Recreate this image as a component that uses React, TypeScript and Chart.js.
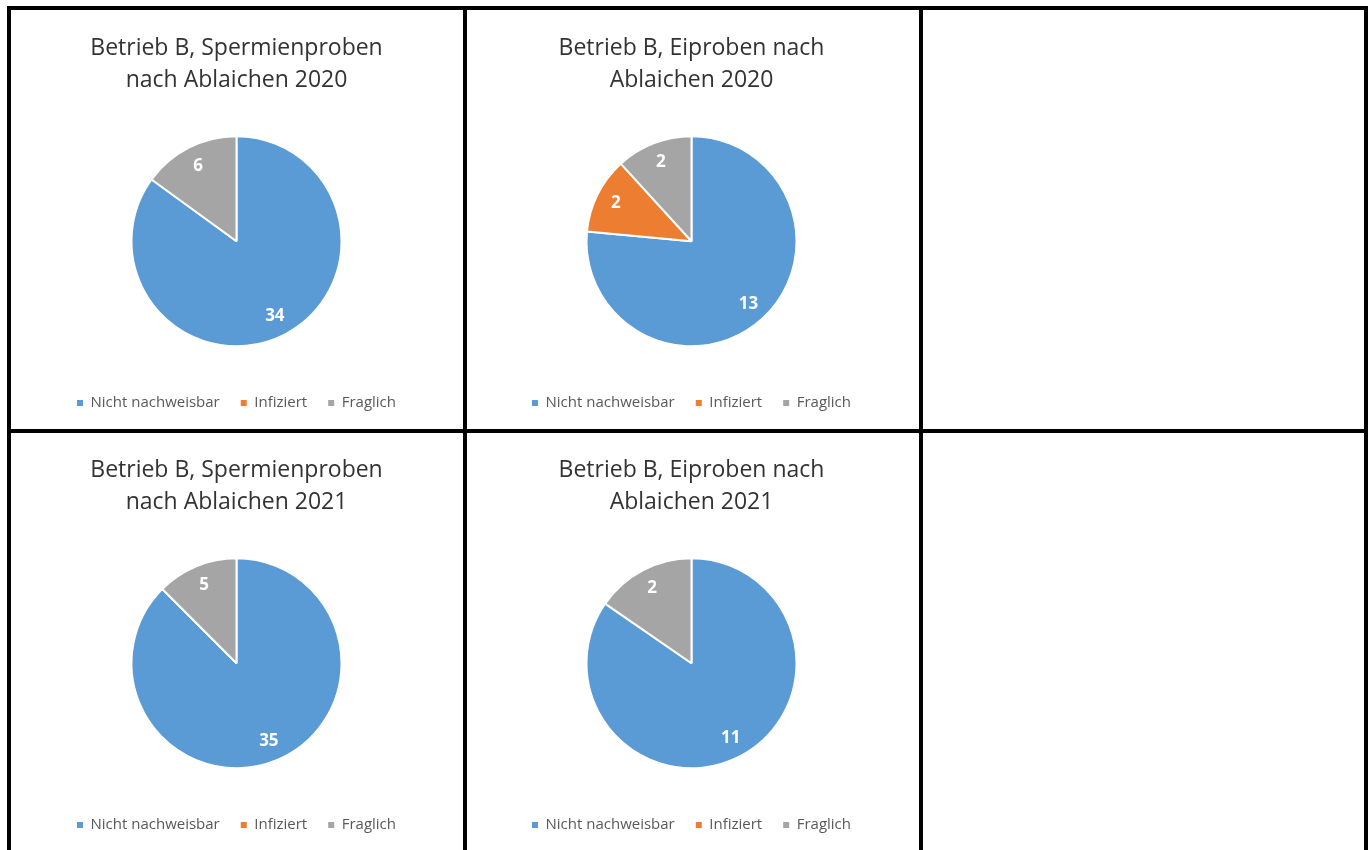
import React, { useEffect, useRef } from "react";
import { Chart, registerables } from "chart.js";

Chart.register(...registerables);

const categories = ["Nicht nachweisbar", "Infiziert", "Fraglich"];
const colors = ["#5B9BD5", "#ED7D31", "#A5A5A5"];

const title1 = ["Betrieb B, Spermienproben", "nach Ablaichen 2020"];
const title2 = ["Betrieb B, Eiproben nach", "Ablaichen 2020"];
const title3 = ["Betrieb B, Spermienproben", "nach Ablaichen 2021"];
const title4 = ["Betrieb B, Eiproben nach", "Ablaichen 2021"];

const sperm2020 = [34, 0, 6];
const egg2020 = [13, 2, 2];
const sperm2021 = [35, 0, 5];
const egg2021 = [11, 0, 2];

const FONT = "'Open Sans', Lato, sans-serif";

const labelPlugin = {
  id: "sliceLabels",
  afterDatasetsDraw(chart: any) {
    const ctx = chart.ctx;
    const meta = chart.getDatasetMeta(0);
    const data = chart.data.datasets[0].data;
    ctx.save();
    ctx.fillStyle = "#FFFFFF";
    ctx.font = `bold 17px ${FONT}`;
    ctx.textAlign = "center";
    ctx.textBaseline = "middle";
    meta.data.forEach((arc: any, i: number) => {
      const v = data[i];
      if (!v) return;
      const p = arc.getProps(["startAngle", "endAngle", "outerRadius", "x", "y"], true);
      const mid = (p.startAngle + p.endAngle) / 2;
      const d = p.outerRadius * 0.805;
      ctx.fillText(String(v), p.x + Math.cos(mid) * d, p.y + Math.sin(mid) * d);
    });
    ctx.restore();
  },
};

function PieCell({ title, values, left, top }: { title: string[]; values: number[]; left: number; top: number }) {
  const ref = useRef<HTMLCanvasElement | null>(null);
  useEffect(() => {
    if (!ref.current) return;
    const chart = new Chart(ref.current, {
      type: "pie",
      data: {
        labels: categories,
        datasets: [
          {
            data: values,
            backgroundColor: colors,
            borderColor: "#FFFFFF",
            borderWidth: 2,
            radius: 105,
          } as any,
        ],
      },
      options: {
        responsive: false,
        maintainAspectRatio: false,
        animation: false,
        layout: { padding: { top: 0, bottom: 7.5, left: 0, right: 0 } },
        plugins: {
          tooltip: { enabled: false },
          title: {
            display: true,
            text: title,
            color: "#333333",
            font: { family: FONT, size: 23, weight: "normal", lineHeight: 32 / 23 },
            padding: { top: 22, bottom: 12 },
          },
          legend: {
            position: "bottom",
            labels: {
              color: "#595959",
              font: { family: FONT, size: 15 },
              boxWidth: 6,
              boxHeight: 6,
              padding: 21,
              generateLabels(ch: any) {
                const base = (Chart as any).overrides.pie.plugins.legend.labels.generateLabels(ch);
                return base.map((l: any) => ({ ...l, lineWidth: 0, hidden: false }));
              },
            },
          },
        },
      },
      plugins: [labelPlugin],
    });
    return () => chart.destroy();
  }, []);
  return (
    <canvas
      ref={ref}
      width={451}
      height={418}
      style={{ position: "absolute", left, top, width: 451, height: 418 }}
    />
  );
}

const line = (l: number, t: number, w: number, h: number, key: string) => (
  <div key={key} style={{ position: "absolute", left: l, top: t, width: w, height: h, background: "#000" }} />
);

export default function App() {
  return (
    <div style={{ position: "absolute", left: 0, top: 0, width: 1371, height: 850, background: "#fff", overflow: "hidden" }}>
      <PieCell title={title1} values={sperm2020} left={11} top={10} />
      <PieCell title={title2} values={egg2020} left={466} top={10} />
      <PieCell title={title3} values={sperm2021} left={11} top={432} />
      <PieCell title={title4} values={egg2021} left={466} top={432} />
      {line(7, 6, 1361, 4, "top")}
      {line(7, 429, 1361, 4, "mid")}
      {line(7, 6, 4, 844, "v0")}
      {line(463, 6, 4, 844, "v1")}
      {line(919, 6, 4, 844, "v2")}
      {line(1364, 6, 4, 844, "v3")}
    </div>
  );
}
